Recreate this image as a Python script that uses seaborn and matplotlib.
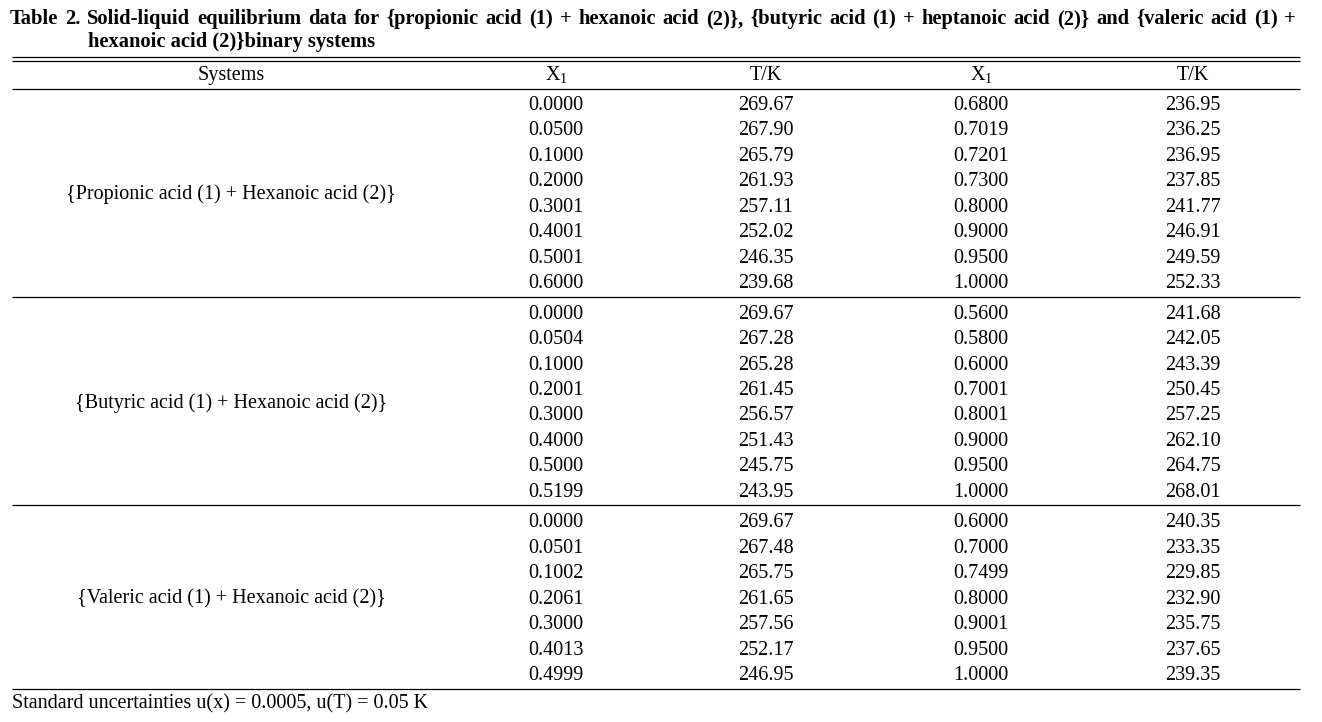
import numpy as np
import pandas as pd
import seaborn as sns
import matplotlib.pyplot as plt

# table data
systems = ['{Propionic acid (1) + Hexanoic acid (2)}',
           '{Butyric acid (1) + Hexanoic acid (2)}',
           '{Valeric acid (1) + Hexanoic acid (2)}']

x1_left = [
    ['0.0000', '0.0500', '0.1000', '0.2000', '0.3001', '0.4001', '0.5001', '0.6000'],
    ['0.0000', '0.0504', '0.1000', '0.2001', '0.3000', '0.4000', '0.5000', '0.5199'],
    ['0.0000', '0.0501', '0.1002', '0.2061', '0.3000', '0.4013', '0.4999'],
]
t_left = [
    ['269.67', '267.90', '265.79', '261.93', '257.11', '252.02', '246.35', '239.68'],
    ['269.67', '267.28', '265.28', '261.45', '256.57', '251.43', '245.75', '243.95'],
    ['269.67', '267.48', '265.75', '261.65', '257.56', '252.17', '246.95'],
]
x1_right = [
    ['0.6800', '0.7019', '0.7201', '0.7300', '0.8000', '0.9000', '0.9500', '1.0000'],
    ['0.5600', '0.5800', '0.6000', '0.7001', '0.8001', '0.9000', '0.9500', '1.0000'],
    ['0.6000', '0.7000', '0.7499', '0.8000', '0.9001', '0.9500', '1.0000'],
]
t_right = [
    ['236.95', '236.25', '236.95', '237.85', '241.77', '246.91', '249.59', '252.33'],
    ['241.68', '242.05', '243.39', '250.45', '257.25', '262.10', '264.75', '268.01'],
    ['240.35', '233.35', '229.85', '232.90', '235.75', '237.65', '239.35'],
]

headers = ['Systems', r'$\mathrm{X}_1$', 'T/K', r'$\mathrm{X}_1$', 'T/K']
title_1 = ('Table 2. Solid-liquid equilibrium data for {propionic acid (1) + hexanoic acid (2)}, '
           '{butyric acid (1) + heptanoic acid (2)} and {valeric acid (1) +')
title_2 = 'hexanoic acid (2)}binary systems'
footnote = 'Standard uncertainties u(x) = 0.0005, u(T) = 0.05 K'

sns.set_theme(style='white')
plt.rcParams['font.family'] = ['Liberation Serif', 'DejaVu Serif']
plt.rcParams['text.color'] = 'black'
plt.rcParams['mathtext.fontset'] = 'custom'
plt.rcParams['mathtext.rm'] = 'Liberation Serif'
plt.rcParams['mathtext.it'] = 'Liberation Serif:italic'

fig = plt.figure(figsize=(13.22, 7.22), dpi=100)
ax = fig.add_axes([0, 0, 1, 1])
ax.set_xlim(0, 1322)
ax.set_ylim(722, 0)
ax.axis('off')

col_x = [231, 556, 766, 981, 1193]
row_h = 25.45
fs = 14.5
tfs = 14.8
lw = 0.9
x0, x1 = 12, 1300

# title, first line justified between the margins
renderer = fig.canvas.get_renderer()
words = title_1.split(' ')
arts = [ax.text(0, 24, w, fontsize=tfs, fontweight='bold', va='baseline', ha='left')
        for w in words]
widths = [a.get_window_extent(renderer).width for a in arts]
gap = (1296 - 10 - sum(widths)) / (len(words) - 1)
xpos = 10
for a, w in zip(arts, widths):
    a.set_x(xpos)
    xpos += w + gap
ax.text(88, 47, title_2, fontsize=tfs, fontweight='bold', va='baseline', ha='left')

# rules
ax.hlines([57, 61, 89], x0, x1, color='black', lw=lw)
for i, h in enumerate(headers):
    ax.text(col_x[i], 80, h, fontsize=fs, ha='center', va='baseline')

y = 110
for g, name in enumerate(systems):
    n = len(x1_left[g])
    df = pd.DataFrame({'x1a': x1_left[g], 'ta': t_left[g], 'x1b': x1_right[g], 'tb': t_right[g]})
    for r, row in df.iterrows():
        yy = y + r * row_h
        for c, val in enumerate(row):
            ax.text(col_x[c + 1], yy, val, fontsize=fs, ha='center', va='baseline')
    ax.text(col_x[0], y + (n - 1) * row_h / 2, name, fontsize=fs, ha='center', va='baseline')
    line_y = y + (n - 1) * row_h + 8.5
    ax.hlines(line_y, x0, x1, color='black', lw=lw)
    y = line_y + 22

ax.text(12, 708, footnote, fontsize=fs, ha='left', va='baseline')

plt.savefig('out.png', dpi=100)
